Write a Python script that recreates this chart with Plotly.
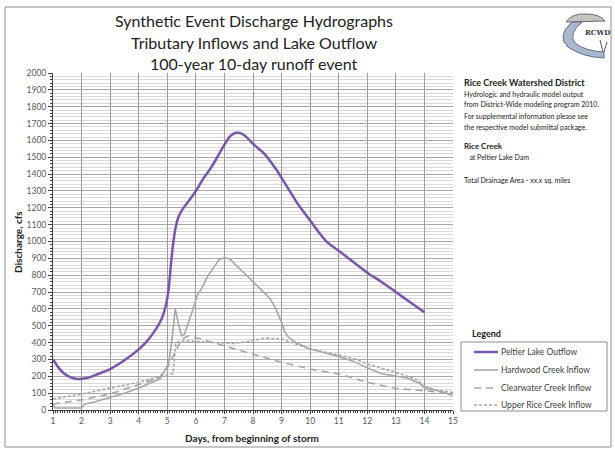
import plotly.graph_objects as go

# ---------------- data ----------------
peltier_days = [1.0, 1.2, 1.4, 1.6, 1.8, 2.0, 2.3, 2.6, 3.0, 3.5, 4.0, 4.3, 4.6, 4.8, 4.95,
                5.05, 5.12, 5.2, 5.3, 5.4, 5.55, 5.75, 6.0, 6.25, 6.5, 6.75, 7.0, 7.2, 7.4,
                7.6, 7.8, 8.0, 8.4, 8.8, 9.0, 9.3, 9.6, 10.0, 10.3, 10.6, 11.0, 11.5, 12.0,
                12.5, 13.0, 13.5, 14.0]
peltier_flow = [300, 250, 215, 195, 186, 185, 195, 215, 243, 295, 360, 410, 480, 540, 620,
                720, 850, 980, 1090, 1150, 1195, 1240, 1300, 1370, 1430, 1500, 1575, 1625, 1645,
                1640, 1615, 1580, 1520, 1430, 1378, 1295, 1215, 1125, 1055, 995, 945, 880, 815,
                760, 700, 640, 580]

hardwood_days = [1.0, 1.08, 2.0, 2.1, 2.5, 3.0, 3.5, 4.0, 4.5, 4.75, 4.9, 5.05, 5.15, 5.28,
                 5.38, 5.5, 5.6, 5.75, 5.9, 6.05, 6.2, 6.4, 6.6, 6.8, 7.0, 7.2, 7.4, 7.6, 7.8,
                 8.0, 8.2, 8.4, 8.6, 8.8, 9.0, 9.1, 9.2, 9.4, 9.7, 10.0, 10.5, 11.0, 11.5,
                 12.0, 12.5, 13.0, 13.4, 13.6, 13.8, 14.0, 14.5, 15.0]
hardwood_flow = [30, 12, 12, 35, 50, 75, 100, 130, 165, 185, 230, 280, 400, 600,
                 520, 440, 450, 520, 600, 680, 720, 790, 840, 890, 905, 895, 860, 830, 795,
                 760, 730, 695, 660, 600, 520, 470, 440, 410, 385, 362, 340, 318, 290,
                 250, 215, 200, 190, 175, 160, 140, 115, 86]

clearwater_days = [1.0, 2.0, 3.0, 4.0, 4.7, 5.0, 5.3, 5.5, 5.75, 6.0, 7.0, 7.5, 8.0, 8.5,
                   9.0, 10.0, 11.0, 11.5, 12.0, 13.0, 14.0, 15.0]
clearwater_flow = [35, 60, 95, 150, 190, 250, 350, 420, 440, 430, 380, 355, 330, 305,
                   283, 243, 214, 190, 164, 128, 115, 100]

upper_rice_days = [1.0, 2.0, 3.0, 4.0, 4.7, 5.0, 5.2, 5.3, 5.5, 6.0, 6.5, 7.0, 7.3, 7.8,
                   8.4, 9.0, 9.5, 10.0, 11.0, 11.6, 12.0, 13.0, 13.8, 14.0, 15.0]
upper_rice_flow = [65, 95, 130, 165, 195, 210, 215, 400, 410, 405, 400, 395, 395, 405,
                   426, 422, 392, 362, 326, 302, 273, 223, 177, 125, 105]

series_names = ["Peltier Lake Outflow", "Hardwood Creek Inflow",
                "Clearwater Creek Inflow", "Upper Rice Creek Inflow"]

x_ticks = list(range(1, 16))
y_ticks = list(range(0, 2001, 100))

# ---------------- geometry helpers (pixel -> paper) ----------------
L, R, T, B = 53, 453, 73, 410
W, H = 615, 453


def px(x):
    return (x - L) / (R - L)


def py(y):
    return (B - y) / (B - T)


FONT = "Lato"
GRAY = "#a6a6a6"
PURPLE = "#7b55aa"
styles = [dict(color=PURPLE, width=2.5),
          dict(color=GRAY, width=1.6),
          dict(color=GRAY, width=1.6, dash="7px,5px"),
          dict(color=GRAY, width=1.6, dash="3px,2px")]

fig = go.Figure()
all_series = [(peltier_days, peltier_flow), (hardwood_days, hardwood_flow),
              (clearwater_days, clearwater_flow), (upper_rice_days, upper_rice_flow)]
for i, ((xs, ys), nm, st) in enumerate(zip(all_series, series_names, styles)):
    line = dict(st)
    if i == 0:
        line.update(shape="spline", smoothing=0.6)
    fig.add_trace(go.Scatter(x=xs, y=ys, mode="lines", name=nm, line=line,
                             showlegend=False))

fig.update_xaxes(range=[1, 15], tickvals=x_ticks, ticktext=[str(v) for v in x_ticks],
                 showgrid=True, gridcolor="#9c9c9c", gridwidth=1,
                 showline=True, linecolor="#404040", linewidth=1,
                 ticks="outside", ticklen=3, tickcolor="#404040",
                 tickfont=dict(family=FONT, size=8.5, color="#595959"),
                 minor=dict(dtick=1 / 12, ticks="outside", ticklen=2, tickcolor="#404040",
                            showgrid=False),
                 zeroline=False, fixedrange=True)
fig.update_yaxes(range=[0, 2000], tickvals=y_ticks, ticktext=[str(v) for v in y_ticks],
                 showgrid=True, gridcolor="#a8a8a8", gridwidth=1,
                 showline=True, linecolor="#404040", linewidth=1,
                 ticks="outside", ticklen=4, tickcolor="#404040",
                 tickfont=dict(family=FONT, size=8.5, color="#595959"),
                 minor=dict(dtick=20, ticks="outside", ticklen=2, tickcolor="#404040",
                            showgrid=True, gridcolor="#d9d9d9", gridwidth=1),
                 zeroline=False, fixedrange=True)

ann = []
titles = ["Synthetic Event Discharge Hydrographs", "Tributary Inflows and Lake Outflow",
          "100-year 10-day runoff event"]
for t, yy in zip(titles, [20, 42, 63]):
    ann.append(dict(text=t, x=px(254), y=py(yy), xref="paper", yref="paper",
                    xanchor="center", yanchor="middle", showarrow=False,
                    font=dict(family=FONT, size=16, color="#222")))

ann.append(dict(text="<b>Days, from beginning of storm</b>", x=px(252), y=py(438),
                xref="paper", yref="paper", xanchor="center", yanchor="middle",
                showarrow=False, font=dict(family=FONT, size=10, color="#222")))
ann.append(dict(text="<b>Discharge, cfs</b>", x=px(18), y=py(242), textangle=-90,
                xref="paper", yref="paper", xanchor="center", yanchor="middle",
                showarrow=False, font=dict(family=FONT, size=10, color="#222")))

side = [("<b>Rice Creek Watershed District</b>", 82, 9),
        ("Hydrologic and hydraulic model output", 93.5, 7),
        ("from District-Wide modeling program 2010.", 104.5, 7),
        ("For supplemental information please see", 115.5, 7),
        ("the respective model submittal package.", 126.5, 7),
        ("<b>Rice Creek</b>", 146, 8),
        ("   at Peltier Lake Dam", 157, 7),
        ("Total Drainage Area - xx.x sq. miles", 180, 7)]
for t, yy, s in side:
    ann.append(dict(text=t, x=px(462), y=py(yy), xref="paper", yref="paper",
                    xanchor="left", yanchor="middle", showarrow=False,
                    font=dict(family=FONT, size=s, color="#222")))

ann.append(dict(text="<b>Legend</b>", x=px(470), y=py(333), xref="paper", yref="paper",
                xanchor="left", yanchor="middle", showarrow=False,
                font=dict(family=FONT, size=9, color="#222")))
ann.append(dict(text="<b>RCWD</b>", x=px(597), y=py(33), xref="paper", yref="paper",
                xanchor="center", yanchor="middle", showarrow=False,
                font=dict(family="DejaVu Serif", size=7, color="#333")))

shapes = [
    # outer frame
    dict(type="rect", xref="paper", yref="paper", x0=px(5), x1=px(611), y0=py(447), y1=py(7),
         line=dict(color="#8c8c8c", width=1), fillcolor="rgba(0,0,0,0)", layer="below"),
    # legend box
    dict(type="rect", xref="paper", yref="paper", x0=px(461), x1=px(607), y0=py(411), y1=py(342),
         line=dict(color="#8c8c8c", width=1), fillcolor="white"),
    # logo sketch: tree canopy
    dict(type="path", xref="paper", yref="paper",
         path=f"M {px(566)},{py(22)} Q {px(572)},{py(13)} {px(586)},{py(14)} "
              f"Q {px(600)},{py(14)} {px(605)},{py(21)} Z",
         line=dict(color="#6a6a6a", width=1), fillcolor="#c4c4c4"),
    # logo sketch: river
    dict(type="path", xref="paper", yref="paper",
         path=f"M {px(572)},{py(22)} Q {px(556)},{py(36)} {px(568)},{py(47)} "
              f"Q {px(582)},{py(57)} {px(604)},{py(58)} "
              f"L {px(604)},{py(52)} Q {px(585)},{py(51)} {px(575)},{py(43)} "
              f"Q {px(568)},{py(34)} {px(582)},{py(22)} Z",
         line=dict(color="#5e6f88", width=1), fillcolor="#a9b8cc"),
    # reeds
    dict(type="path", xref="paper", yref="paper",
         path=f"M {px(600)},{py(40)} L {px(603)},{py(52)} M {px(607)},{py(42)} L {px(604)},{py(52)}",
         line=dict(color="#555", width=1)),
]

# manual legend entries
for nm, st, yy in zip(series_names, styles, [352, 370, 388, 405]):
    ln = dict(color=st["color"], width=st["width"])
    if "dash" in st:
        ln["dash"] = st["dash"]
    shapes.append(dict(type="line", xref="paper", yref="paper",
                       x0=px(474), x1=px(498), y0=py(yy), y1=py(yy), line=ln))
    ann.append(dict(text=nm, x=px(499), y=py(yy), xref="paper", yref="paper",
                    xanchor="left", yanchor="middle", showarrow=False,
                    font=dict(family=FONT, size=8.5, color="#404040")))

fig.update_layout(
    width=W, height=H, autosize=False,
    margin=dict(l=L, r=W - R, t=T, b=H - B, pad=0),
    paper_bgcolor="white", plot_bgcolor="white",
    font=dict(family=FONT, size=9, color="#222"),
    annotations=ann, shapes=shapes,
    showlegend=False,
)

fig.write_html("out.html", config={"displayModeBar": False},
               post_script="document.body.style.margin='0';")
